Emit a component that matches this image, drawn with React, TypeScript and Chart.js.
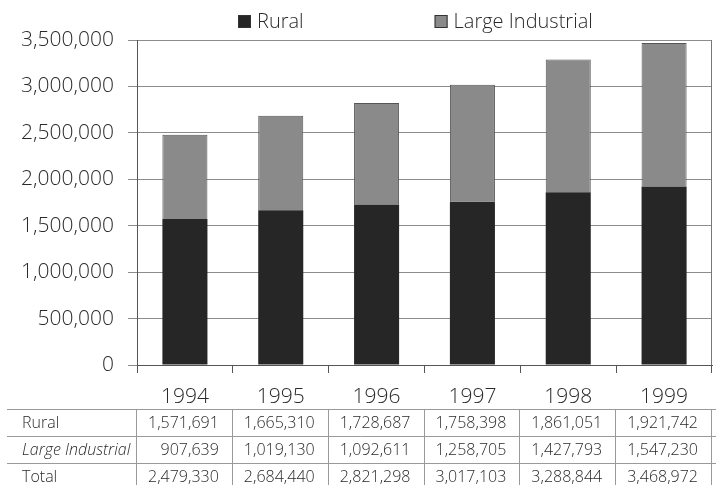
import { useEffect, useRef } from "react";
import { Chart, registerables } from "chart.js";

Chart.register(...registerables);

// Sales by customer class, 1994–1999
const years = ["1994", "1995", "1996", "1997", "1998", "1999"];
const rural = [1571691, 1665310, 1728687, 1758398, 1861051, 1921742];
const largeIndustrial = [907639, 1019130, 1092611, 1258705, 1427793, 1547230];
const totals = [2479330, 2684440, 2821298, 3017103, 3288844, 3468972];
const seriesNames = ["Rural", "Large Industrial"];
const rowNames = ["Rural", "Large Industrial", "Total"];
const yMax = 3500000;
const yStep = 500000;

const FONT = '"Open Sans", "Noto Sans", sans-serif';
const WEIGHT = "300";
const TEXT = "#2a2a2a";
const fmt = (v: number) => v.toLocaleString("en-US");

// Legend drawn above the plot box
const legendPlugin = {
  id: "topLegend",
  afterDraw(chart: any) {
    const ctx = chart.ctx;
    ctx.save();
    ctx.font = `${WEIGHT} 20px ${FONT}`;
    ctx.textBaseline = "middle";
    ctx.textAlign = "left";
    let x = 238;
    const y = 22;
    chart.data.datasets.forEach((ds: any) => {
      ctx.fillStyle = ds.backgroundColor;
      ctx.fillRect(x, y - 7, 13, 13);
      ctx.strokeStyle = "#333";
      ctx.lineWidth = 1;
      ctx.strokeRect(x + 0.5, y - 6.5, 12, 12);
      ctx.fillStyle = TEXT;
      ctx.fillText(ds.label, x + 19, y);
      x += 19 + ctx.measureText(ds.label).width + 131;
    });
    ctx.restore();
  },
};

// Right edge of the plot frame
const framePlugin = {
  id: "frame",
  afterDatasetsDraw(chart: any) {
    const { ctx, chartArea } = chart;
    ctx.save();
    ctx.strokeStyle = "#777";
    ctx.lineWidth = 1;
    ctx.beginPath();
    ctx.moveTo(Math.round(chartArea.right) - 0.5, chartArea.top);
    ctx.lineTo(Math.round(chartArea.right) - 0.5, chartArea.bottom);
    ctx.stroke();
    ctx.restore();
  },
};

// Data table under the category axis
const tablePlugin = {
  id: "dataTable",
  afterDraw(chart: any) {
    const { ctx, chartArea } = chart;
    const n = years.length;
    const colW = (chartArea.right - chartArea.left) / n;
    const top = 409;
    const rowH = 27;
    const rows = [rural, largeIndustrial, totals];
    ctx.save();
    ctx.strokeStyle = "#9a9a9a";
    ctx.lineWidth = 1;
    // horizontal rules
    for (let r = 0; r <= rows.length; r++) {
      const y = Math.round(top + r * rowH) + 0.5;
      ctx.beginPath();
      ctx.moveTo(7, y);
      ctx.lineTo(716, y);
      ctx.stroke();
    }
    // vertical rules
    for (let c = 0; c <= n; c++) {
      const x = Math.round(chartArea.left + c * colW) - 0.5;
      ctx.beginPath();
      ctx.moveTo(x, top);
      ctx.lineTo(x, top + rows.length * rowH);
      ctx.stroke();
    }
    ctx.textBaseline = "middle";
    ctx.fillStyle = TEXT;
    rows.forEach((vals, r) => {
      const cy = top + r * rowH + rowH / 2 + 1;
      ctx.textAlign = "left";
      ctx.font = (r === 1 ? "italic " : "") + `${WEIGHT} 16px ${FONT}`;
      ctx.fillText(rowNames[r], 22, cy);
      ctx.font = `${WEIGHT} 16px ${FONT}`;
      ctx.textAlign = "right";
      vals.forEach((v, c) => {
        ctx.fillText(fmt(v), chartArea.left + (c + 1) * colW - 14, cy);
      });
    });
    ctx.restore();
  },
};

export default function App() {
  const canvasRef = useRef<HTMLCanvasElement | null>(null);

  useEffect(() => {
    const canvas = canvasRef.current;
    if (!canvas) return;
    const chart = new Chart(canvas, {
      type: "bar",
      data: {
        labels: years,
        datasets: [
          {
            label: seriesNames[0],
            data: rural,
            backgroundColor: "#262626",
            borderWidth: 0,
            categoryPercentage: 1,
            barPercentage: 0.47,
          },
          {
            label: seriesNames[1],
            data: largeIndustrial,
            backgroundColor: "#8a8a8a",
            borderColor: "#555",
            borderWidth: 1,
            borderSkipped: "bottom",
            categoryPercentage: 1,
            barPercentage: 0.47,
          },
        ],
      },
      options: {
        responsive: false,
        animation: false,
        devicePixelRatio: 1,
        layout: { padding: { top: 40, right: 4, left: 0, bottom: 0 } },
        plugins: {
          legend: { display: false },
          tooltip: { enabled: false },
        },
        scales: {
          x: {
            stacked: true,
            afterFit(scale: any) {
              scale.height = 120;
            },
            grid: {
              offset: true,
              drawOnChartArea: false,
              drawTicks: true,
              tickLength: 8,
              color: "#555",
            },
            border: { display: true, color: "#555", width: 1 },
            ticks: {
              color: TEXT,
              font: { family: FONT, size: 21, weight: WEIGHT },
              padding: 11,
              maxRotation: 0,
            },
          },
          y: {
            stacked: true,
            min: 0,
            max: yMax,
            afterFit(scale: any) {
              scale.width = 137;
            },
            grid: {
              color: "#8c8c8c",
              drawTicks: true,
              tickLength: 9,
            },
            border: { display: true, color: "#555", width: 1 },
            ticks: {
              stepSize: yStep,
              color: TEXT,
              font: { family: FONT, size: 21, weight: WEIGHT },
              padding: 14,
              callback: (v: any) => fmt(Number(v)),
            },
          },
        },
      },
      plugins: [framePlugin, legendPlugin, tablePlugin],
    });
    return () => chart.destroy();
  }, []);

  return (
    <div
      style={{
        position: "fixed",
        left: 0,
        top: 0,
        width: 716,
        height: 485,
        background: "#fff",
      }}
    >
      <canvas ref={canvasRef} width={716} height={485} style={{ display: "block" }} />
    </div>
  );
}
